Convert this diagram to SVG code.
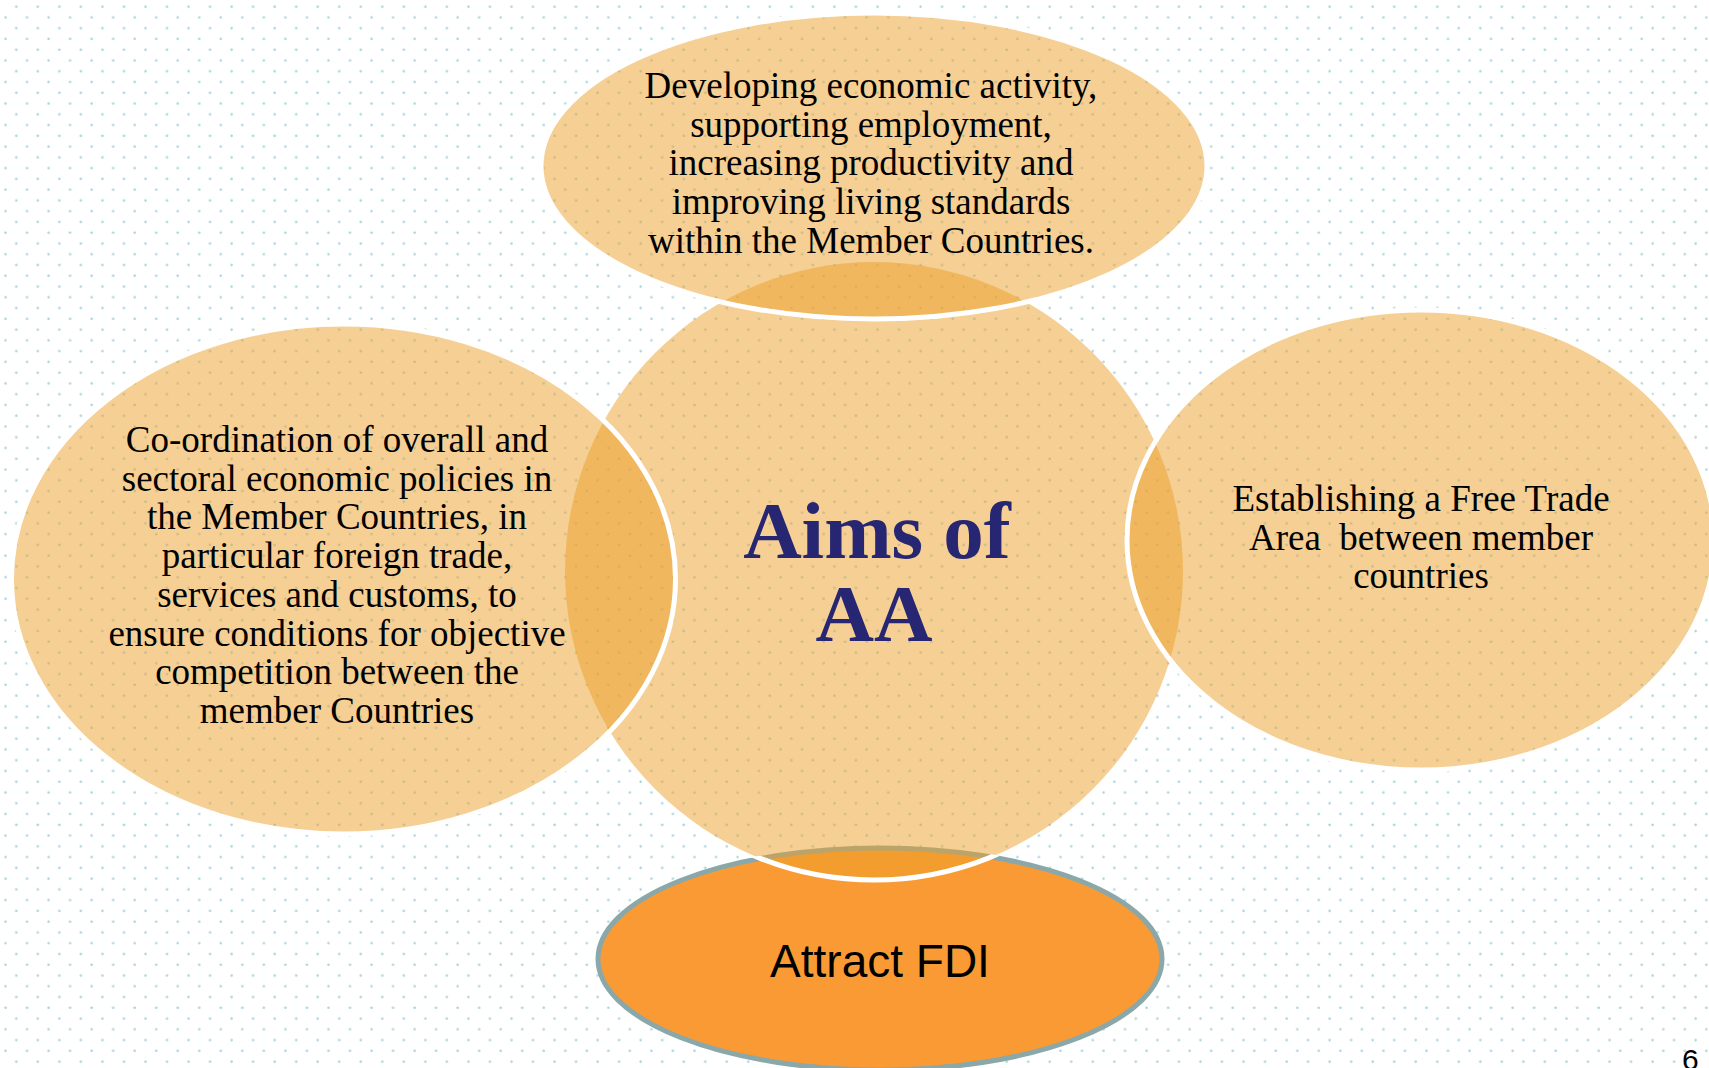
<svg xmlns="http://www.w3.org/2000/svg" width="1709" height="1068" viewBox="0 0 1709 1068">
<style>
.soft{fill:rgb(235,159,41);fill-opacity:0.5}
.edge{stroke:#ffffff;stroke-width:5}
.body{font-family:"Liberation Serif","Times New Roman",serif;font-size:37px;fill:#000;text-anchor:middle}
.title{font-family:"Liberation Serif","Times New Roman",serif;font-size:81px;font-weight:bold;fill:#262673;text-anchor:middle}
.sans{font-family:"Liberation Sans",Arial,sans-serif;fill:#000}
</style>
<defs>
<pattern id="dots" patternUnits="userSpaceOnUse" width="21.53" height="21.53">
<circle cx="16.3" cy="6.7" r="1.3" fill="#a9d5dd"/>
<circle cx="5.5" cy="17.4" r="1.3" fill="#a9d5dd"/>
</pattern>
<clipPath id="fdiClip"><ellipse cx="880" cy="959" rx="285" ry="114"/></clipPath>
</defs>
<rect width="1709" height="1068" fill="#ffffff"/>
<rect width="1709" height="1068" fill="url(#dots)"/>
<g id="connectors"></g>
<g id="node-fdi">
<ellipse cx="880" cy="959" rx="282" ry="111" fill="#fa9a34" stroke="#8aa8aa" stroke-width="5"/>
</g>
<g id="node-center">
<circle cx="874" cy="571" r="309" class="soft"/>
<circle cx="874" cy="571" r="309" fill="none" class="edge" clip-path="url(#fdiClip)"/>
</g>
<g id="node-left">
<ellipse cx="343.5" cy="579" rx="332" ry="255" class="soft edge"/>
</g>
<g id="node-right">
<ellipse cx="1421" cy="540" rx="294" ry="230" class="soft edge"/>
</g>
<g id="node-top">
<ellipse cx="874" cy="166" rx="333" ry="153" class="soft edge"/>
</g>
<g id="labels">
<text class="body" x="871"><tspan x="871" y="98">Developing economic activity,</tspan><tspan x="871" y="136.7">supporting employment,</tspan><tspan x="871" y="175.4">increasing productivity and</tspan><tspan x="871" y="214.1">improving living standards</tspan><tspan x="871" y="252.8">within the Member Countries.</tspan></text>
<text class="body" x="337"><tspan x="337" y="452">Co-ordination of overall and</tspan><tspan x="337" y="490.7">sectoral economic policies in</tspan><tspan x="337" y="529.4">the Member Countries, in</tspan><tspan x="337" y="568.1">particular foreign trade,</tspan><tspan x="337" y="606.8">services and customs, to</tspan><tspan x="337" y="645.5">ensure conditions for objective</tspan><tspan x="337" y="684.2">competition between the</tspan><tspan x="337" y="722.9">member Countries</tspan></text>
<text class="body" x="1421" xml:space="preserve"><tspan x="1421" y="511">Establishing a Free Trade</tspan><tspan x="1421" y="549.7">Area  between member</tspan><tspan x="1421" y="588.4">countries</tspan></text>
<text class="title"><tspan x="877" y="558">Aims of</tspan><tspan x="874" y="641">AA</tspan></text>
<text class="sans" x="880" y="977" font-size="46" text-anchor="middle">Attract FDI</text>
<text class="sans" x="1682" y="1070" font-size="30">6</text>
</g>
</svg>
